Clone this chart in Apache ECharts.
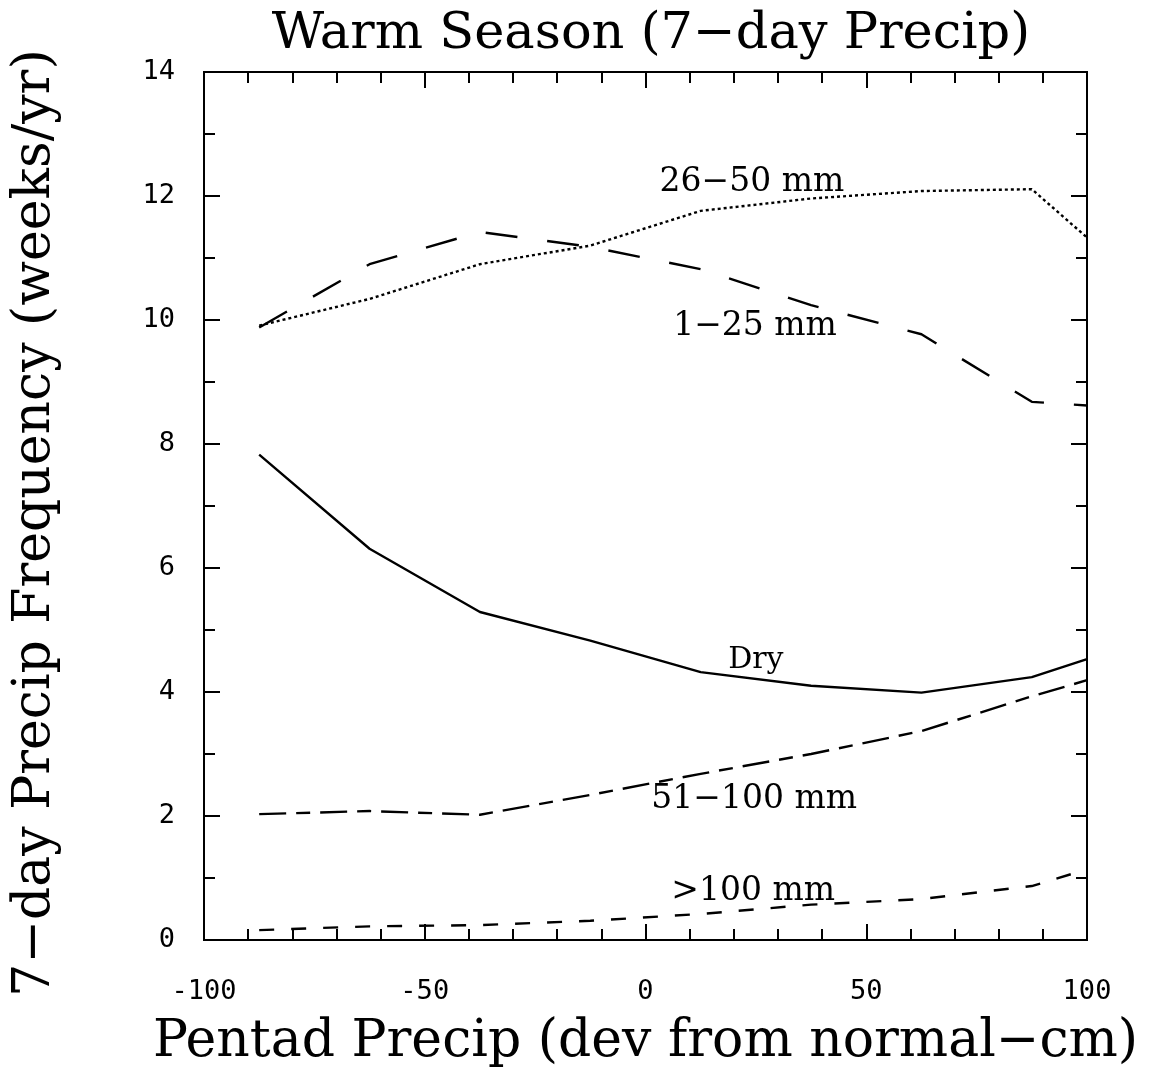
<!DOCTYPE html>
<html>
<head>
<meta charset="utf-8">
<script src="https://cdn.jsdelivr.net/npm/echarts@6/dist/echarts.min.js"></script>
<style>
  html, body { margin: 0; padding: 0; background: #fff; }
  #chart { width: 1154px; height: 1073px; }
</style>
</head>
<body>
<div id="chart"></div>
<script>
// Pentad precipitation deviation (cm) at which each class is evaluated
const pentadDev = [-87.5, -62.5, -37.5, -12.5, 12.5, 37.5, 62.5, 87.5, 100];

// 7-day precipitation frequency (weeks/yr) per precipitation class
const dry      = [7.83, 6.31, 5.29, 4.83, 4.32, 4.10, 3.99, 4.24, 4.53];
const mm1_25   = [9.88, 10.90, 11.42, 11.18, 10.82, 10.24, 9.77, 8.68, 8.62];
const mm26_50  = [9.91, 10.34, 10.90, 11.20, 11.76, 11.96, 12.08, 12.11, 11.33];
const mm51_100 = [2.03, 2.08, 2.02, 2.34, 2.68, 3.00, 3.37, 3.93, 4.19];
const mmOver100 = [0.16, 0.22, 0.24, 0.31, 0.42, 0.57, 0.66, 0.87, 1.14];

// Curve names and where their labels sit (data units)
const classNames = ['Dry', '1\u221225 mm', '26\u221250 mm', '51\u2212100 mm', '>100 mm'];
const labelAt = [[25.0, 4.51], [24.8, 9.90], [24.1, 12.22], [24.6, 2.27], [24.4, 0.79]];

const titleFont = 'DejaVu Serif';
const tickFont = 'DejaVu Sans Mono';
const labelFont = 'DejaVu Serif';

function pairs(values) {
  return pentadDev.map((x, i) => [x, values[i]]);
}

function curve(idx, values, dashType, labelSize) {
  return {
    name: classNames[idx],
    type: 'line',
    data: pairs(values),
    symbol: 'none',
    clip: true,
    silent: true,
    lineStyle: { color: '#000', width: 2.4, type: dashType },
    markPoint: {
      symbol: 'circle',
      symbolSize: 0,
      silent: true,
      data: [{ coord: labelAt[idx] }],
      label: {
        show: true,
        position: 'inside',
        formatter: classNames[idx],
        color: '#000',
        fontFamily: labelFont,
        fontSize: labelSize
      }
    }
  };
}

const chart = echarts.init(document.getElementById('chart'), null, { renderer: 'canvas' });

function frameAxis(extra, split) {
  return Object.assign({
    type: 'value',
    axisLine: { show: false, onZero: false },
    axisTick: { show: true, inside: true, length: 16, lineStyle: { color: '#000', width: 2 } },
    minorTick: { show: true, splitNumber: split, length: 11, lineStyle: { color: '#000', width: 2 } },
    splitLine: { show: false },
    minorSplitLine: { show: false }
  }, extra);
}

const axisNameStyle = { fontFamily: titleFont, fontSize: 52, color: '#000' };

chart.setOption({
  animation: false,
  backgroundColor: '#fff',
  title: {
    text: 'Warm Season (7\u2212day Precip)',
    left: 646,
    textAlign: 'center',
    top: 4,
    textStyle: { fontFamily: titleFont, fontWeight: 'normal', fontSize: 51, color: '#000' }
  },
  grid: {
    left: 204, right: 67, top: 72, bottom: 131,
    show: true, borderColor: '#000', borderWidth: 2, backgroundColor: 'transparent'
  },
  xAxis: [
    frameAxis({
      min: -100, max: 100, interval: 50, position: 'bottom',
      axisLabel: { margin: 38, color: '#000', fontFamily: tickFont, fontSize: 27 },
      name: 'Pentad Precip (dev from normal\u2212cm)',
      nameLocation: 'middle',
      nameGap: 76,
      nameTextStyle: axisNameStyle
    }, 5),
    frameAxis({
      min: -100, max: 100, interval: 50, position: 'top',
      axisLabel: { show: false }
    }, 5)
  ],
  yAxis: [
    frameAxis({
      min: 0, max: 14, interval: 2, position: 'left',
      axisLabel: { margin: 29, color: '#000', fontFamily: tickFont, fontSize: 27 },
      name: '7\u2212day Precip Frequency (weeks/yr)',
      nameLocation: 'middle',
      nameRotate: 90,
      nameGap: 143,
      nameTextStyle: Object.assign({ padding: [0, 34, 0, 0] }, axisNameStyle)
    }, 2),
    frameAxis({
      min: 0, max: 14, interval: 2, position: 'right',
      axisLabel: { show: false }
    }, 2)
  ],
  series: [
    curve(0, dry, 'solid', 30),
    curve(1, mm1_25, [32, 30], 33),
    curve(2, mm26_50, [3, 3], 33),
    curve(3, mm51_100, [27, 10, 14, 10], 33),
    curve(4, mmOver100, [15, 17], 33)
  ]
});
</script>
</body>
</html>
